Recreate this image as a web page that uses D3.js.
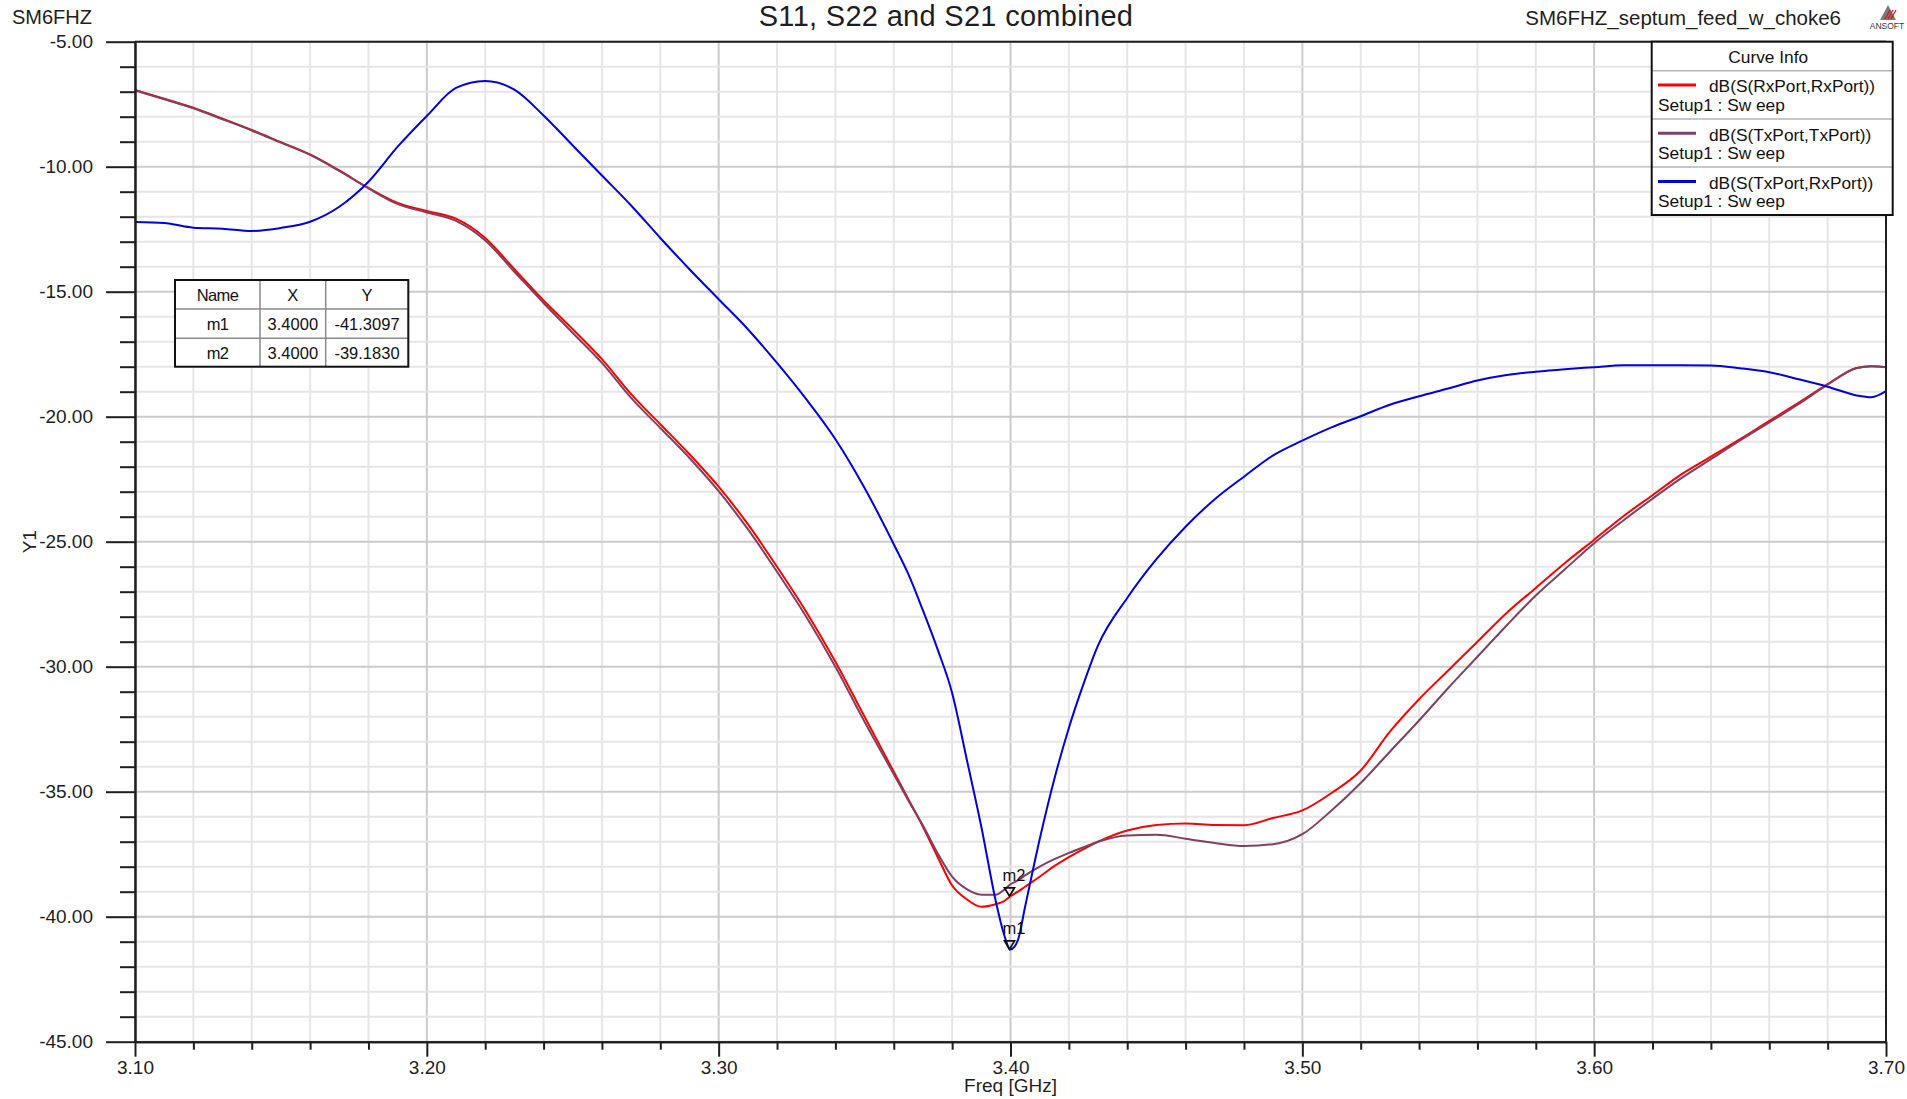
<!DOCTYPE html>
<html>
<head>
<meta charset="utf-8">
<script src="https://cdn.jsdelivr.net/npm/d3@7/dist/d3.min.js"></script>
<style>
  html, body { margin: 0; padding: 0; background: #ffffff; }
  svg { display: block; font-family: "Liberation Sans", Arial, sans-serif; }
</style>
</head>
<body>
<svg id="chart" width="1907" height="1099"></svg>
<script>
// ---------------- data ----------------
const freq = [3.10,3.11,3.12,3.13,3.14,3.15,3.16,3.17,3.18,3.19,3.20,3.21,3.22,3.23,3.24,3.25,3.26,3.27,3.28,3.29,
  3.30,3.31,3.32,3.33,3.34,3.35,3.36,3.365,3.37,3.375,3.38,3.385,3.39,3.395,3.3975,3.40,3.4025,3.405,3.41,3.415,
  3.42,3.425,3.43,3.44,3.45,3.46,3.47,3.48,3.49,3.50,3.51,3.52,3.53,3.54,3.55,3.56,3.57,3.58,3.59,3.60,
  3.61,3.62,3.63,3.64,3.65,3.66,3.67,3.68,3.69,3.695,3.70];

// dB(S(RxPort,RxPort))
const s11 = [-6.93,-7.28,-7.64,-8.08,-8.53,-9.02,-9.51,-10.15,-10.85,-11.45,-11.77,-12.08,-12.85,-14.1,-15.35,-16.5,-17.7,-19.1,-20.3,-21.5,
  -22.8,-24.3,-26.0,-27.8,-29.8,-32.0,-34.2,-35.3,-36.4,-37.6,-38.75,-39.3,-39.6,-39.5,-39.4,-39.18,-39.0,-38.8,-38.4,-37.98,
  -37.62,-37.3,-37.0,-36.55,-36.33,-36.27,-36.33,-36.34,-36.05,-35.75,-35.05,-34.15,-32.6,-31.3,-30.15,-29.0,-27.85,-26.85,-25.85,-24.92,
  -23.98,-23.14,-22.3,-21.6,-20.9,-20.17,-19.45,-18.7,-18.05,-17.98,-18.02];

// dB(S(TxPort,TxPort))
const s22 = [-6.95,-7.3,-7.66,-8.1,-8.55,-9.04,-9.53,-10.17,-10.87,-11.5,-11.83,-12.17,-12.95,-14.2,-15.45,-16.65,-17.85,-19.25,-20.45,-21.65,
  -22.98,-24.5,-26.2,-28.0,-30.0,-32.2,-34.3,-35.35,-36.35,-37.45,-38.4,-38.9,-39.12,-39.12,-38.95,-38.7,-38.55,-38.35,-38.0,-37.7,
  -37.45,-37.22,-37.0,-36.75,-36.72,-36.88,-37.05,-37.17,-37.1,-36.7,-35.75,-34.65,-33.4,-32.15,-30.85,-29.6,-28.35,-27.15,-26.1,-25.06,
  -24.15,-23.28,-22.45,-21.7,-20.95,-20.23,-19.5,-18.72,-18.05,-17.98,-18.02];

// dB(S(TxPort,RxPort))
const s21 = [-12.21,-12.25,-12.44,-12.48,-12.57,-12.45,-12.2,-11.6,-10.6,-9.2,-7.97,-6.85,-6.57,-6.92,-7.95,-9.15,-10.35,-11.55,-12.85,-14.1,
  -15.3,-16.5,-17.85,-19.3,-20.9,-22.85,-25.1,-26.3,-27.75,-29.3,-31.05,-33.7,-36.4,-39.4,-40.6,-41.31,-40.95,-39.6,-36.9,-34.5,
  -32.45,-30.7,-29.15,-27.25,-25.7,-24.4,-23.3,-22.4,-21.55,-20.96,-20.43,-19.98,-19.52,-19.18,-18.87,-18.55,-18.33,-18.2,-18.1,-18.02,
  -17.94,-17.94,-17.94,-17.95,-18.06,-18.22,-18.5,-18.8,-19.15,-19.22,-18.98];

const seriesNames = ["dB(S(RxPort,RxPort))", "dB(S(TxPort,TxPort))", "dB(S(TxPort,RxPort))"];
const seriesSetup = ["Setup1 : Sw eep", "Setup1 : Sw eep", "Setup1 : Sw eep"];
const seriesColors = ["#ff0000", "#804060", "#0000e0"];

const xTickValues = [3.10, 3.20, 3.30, 3.40, 3.50, 3.60, 3.70];
const yTickValues = [-5, -10, -15, -20, -25, -30, -35, -40, -45];

const markerNames = ["m1", "m2"];
const markerX = [3.40, 3.40];
const markerY = [-41.3097, -39.1830];

const titleText = "S11, S22 and S21 combined";
const leftLabel = "SM6FHZ";
const rightLabel = "SM6FHZ_septum_feed_w_choke6";
const xAxisLabel = "Freq [GHz]";
const yAxisLabel = "Y1";

// ---------------- layout ----------------
const L = 135, R = 1886, T = 41.7, B = 1041.7;
const svg = d3.select("#chart");
const x = d3.scaleLinear().domain([3.1, 3.7]).range([L, R]);
const y = d3.scaleLinear().domain([-45, -5]).range([B, T]);
const ink = "#1e1e1e";
const fmt2 = d => d.toFixed(2);

// grid
const minorX = d3.range(0, 31).map(i => +(3.1 + i * 0.02).toFixed(3));
const minorY = d3.range(-45, -4, 1);
const grid = svg.append("g");
grid.selectAll("line.vx").data(minorX).join("line")
  .attr("x1", d => x(d)).attr("x2", d => x(d)).attr("y1", T).attr("y2", B)
  .attr("stroke", d => (Math.round(d * 100) % 10 === 0) ? "#cbcbcb" : "#e6e6e6")
  .attr("stroke-width", 2);
grid.selectAll("line.hy").data(minorY).join("line")
  .attr("y1", d => y(d)).attr("y2", d => y(d)).attr("x1", L).attr("x2", R)
  .attr("stroke", d => (d % 5 === 0) ? "#cbcbcb" : "#e6e6e6")
  .attr("stroke-width", 2);

// curves
svg.append("defs").append("clipPath").attr("id", "plotclip")
  .append("rect").attr("x", L).attr("y", T).attr("width", R - L).attr("height", B - T);
const line = d3.line().x(d => x(d[0])).y(d => y(d[1])).curve(d3.curveMonotoneX);
const allSeries = [s11, s22, s21];
const cg = svg.append("g").attr("clip-path", "url(#plotclip)");
allSeries.forEach((vals, i) => {
  cg.append("path").datum(freq.map((f, k) => [f, vals[k]]))
    .attr("d", line).attr("fill", "none")
    .attr("stroke", seriesColors[i]).attr("stroke-width", 2)
    .attr("stroke-linejoin", "round");
});

// axes
const fontAxis = 19;
const yAxis = svg.append("g").attr("transform", `translate(${L},0)`)
  .call(d3.axisLeft(y).tickValues(yTickValues).tickFormat(fmt2)
    .tickSize(29).tickSizeOuter(0).tickPadding(13));
const yMinor = svg.append("g").attr("transform", `translate(${L},0)`)
  .call(d3.axisLeft(y).tickValues(minorY.filter(d => d % 5 !== 0)).tickFormat("")
    .tickSize(15).tickSizeOuter(0));
const xAxis = svg.append("g").attr("transform", `translate(0,${B})`)
  .call(d3.axisBottom(x).tickValues(xTickValues).tickFormat(fmt2)
    .tickSize(15).tickSizeOuter(0).tickPadding(3.5));
const xMinor = svg.append("g").attr("transform", `translate(0,${B})`)
  .call(d3.axisBottom(x).tickValues(minorX.filter(d => Math.round(d * 100) % 10 !== 0)).tickFormat("")
    .tickSize(8).tickSizeOuter(0));
[yAxis, yMinor, xAxis, xMinor].forEach(g => {
  g.selectAll("line").attr("stroke", ink).attr("stroke-width", 2);
  g.select(".domain").attr("stroke", ink).attr("stroke-width", 2);
  g.selectAll("text").attr("fill", ink).attr("font-size", fontAxis)
    .attr("font-family", "Liberation Sans, Arial, sans-serif");
});
// frame top and right
svg.append("line").attr("x1", L).attr("x2", R).attr("y1", T).attr("y2", T).attr("stroke", ink).attr("stroke-width", 2);
svg.append("line").attr("x1", R).attr("x2", R).attr("y1", T).attr("y2", B).attr("stroke", ink).attr("stroke-width", 2);

// axis titles
svg.append("text").attr("x", (L + R) / 2).attr("y", 1091.5).attr("text-anchor", "middle")
  .attr("font-size", 19).attr("fill", ink).text(xAxisLabel);
svg.append("text").attr("transform", `translate(36,${(T + B) / 2}) rotate(-90)`).attr("text-anchor", "middle")
  .attr("font-size", 19).attr("fill", ink).text(yAxisLabel);

// titles
svg.append("text").attr("x", 946).attr("y", 26).attr("text-anchor", "middle")
  .attr("font-size", 29).attr("letter-spacing", 0.3).attr("fill", ink).text(titleText);
svg.append("text").attr("x", 12).attr("y", 24).attr("font-size", 20).attr("fill", ink).text(leftLabel);
svg.append("text").attr("x", 1841).attr("y", 25).attr("text-anchor", "end")
  .attr("font-size", 20.5).attr("fill", ink).text(rightLabel);

// ANSOFT logo
const logo = svg.append("g");
logo.append("path").attr("d", "M1888,5 L1896,20 L1880,20 Z").attr("fill", "#7a7a7a");
[0, 1, 2].forEach(i => {
  logo.append("line").attr("x1", 1885 + i * 3).attr("y1", 19).attr("x2", 1890 + i * 3).attr("y2", 10)
    .attr("stroke", "#e01010").attr("stroke-width", 1.2);
});
logo.append("text").attr("x", 1887).attr("y", 29).attr("text-anchor", "middle")
  .attr("font-size", 8.5).attr("fill", "#333").text("ANSOFT");

// markers
markerNames.forEach((m, i) => {
  const px = x(markerX[i]), py = y(markerY[i]);
  svg.append("path").attr("d", `M${px - 1},${py} L${px - 6},${py - 8.5} L${px + 4},${py - 8.5} Z`)
    .attr("fill", "none").attr("stroke", "#111").attr("stroke-width", 1.7);
  svg.append("text").attr("x", px - 8).attr("y", py - 15.5).attr("font-size", 16.5).attr("fill", "#111").text(m);
});

// marker table
const tbl = svg.append("g");
const tx = [175, 260, 325.7, 408.3], ty = [280, 309, 338.3, 366.7];
tbl.append("rect").attr("x", tx[0]).attr("y", ty[0]).attr("width", tx[3] - tx[0]).attr("height", ty[3] - ty[0])
  .attr("fill", "#fff");
[tx[1], tx[2]].forEach(v => tbl.append("line").attr("x1", v).attr("x2", v).attr("y1", ty[0]).attr("y2", ty[3])
  .attr("stroke", "#8a8a8a").attr("stroke-width", 1.5));
[ty[1], ty[2]].forEach(v => tbl.append("line").attr("y1", v).attr("y2", v).attr("x1", tx[0]).attr("x2", tx[3])
  .attr("stroke", "#8a8a8a").attr("stroke-width", 1.5));
tbl.append("rect").attr("x", tx[0]).attr("y", ty[0]).attr("width", tx[3] - tx[0]).attr("height", ty[3] - ty[0])
  .attr("fill", "none").attr("stroke", "#111").attr("stroke-width", 2);
const rows = [["Name", "X", "Y"]].concat(markerNames.map((m, i) => [m, markerX[i].toFixed(4), markerY[i].toFixed(4)]));
const baselines = [300.7, 329.5, 358.5];
rows.forEach((r, ri) => r.forEach((c, ci) => {
  tbl.append("text").attr("x", (tx[ci] + tx[ci + 1]) / 2).attr("y", baselines[ri])
    .attr("text-anchor", "middle").attr("font-size", 16.5).attr("fill", "#111")
    .attr("letter-spacing", ci === 0 ? -0.6 : 0).text(c);
}));

// legend
const lg = svg.append("g");
const lx0 = 1651.7, lx1 = 1892.7, ly0 = 41.7, ly1 = 215;
lg.append("rect").attr("x", lx0).attr("y", ly0).attr("width", lx1 - lx0).attr("height", ly1 - ly0).attr("fill", "#fff");
const seps = [70.7, 118.9, 167.1];
seps.forEach(v => lg.append("line").attr("x1", lx0).attr("x2", lx1).attr("y1", v).attr("y2", v)
  .attr("stroke", "#b4b4b4").attr("stroke-width", 1.5));
lg.append("rect").attr("x", lx0).attr("y", ly0).attr("width", lx1 - lx0).attr("height", ly1 - ly0)
  .attr("fill", "none").attr("stroke", "#111").attr("stroke-width", 2);
lg.append("text").attr("x", (lx0 + lx1) / 2 - 4).attr("y", 63).attr("text-anchor", "middle")
  .attr("font-size", 17.3).attr("fill", "#111").text("Curve Info");
seriesNames.forEach((n, i) => {
  const oy = i * 48.2;
  lg.append("line").attr("x1", 1658).attr("x2", 1696).attr("y1", 85 + oy).attr("y2", 85 + oy)
    .attr("stroke", seriesColors[i]).attr("stroke-width", 3);
  lg.append("text").attr("x", 1709).attr("y", 92.3 + oy).attr("font-size", 17.3).attr("fill", "#111").text(n);
  lg.append("text").attr("x", 1658).attr("y", 111 + oy).attr("font-size", 17.3).attr("fill", "#111").text(seriesSetup[i]);
});
</script>
</body>
</html>
